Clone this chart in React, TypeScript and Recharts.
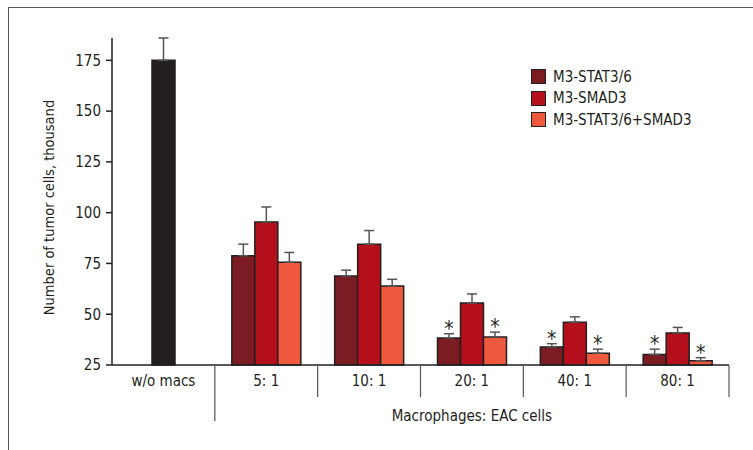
import { Bar, BarChart, Cell, ErrorBar, LabelList, Legend, XAxis, YAxis } from "recharts";

const CATEGORIES = ["w/o macs", "5: 1", "10: 1", "20: 1", "40: 1", "80: 1"];
const NO_MACS = [175, null, null, null, null, null];
const NO_MACS_ERR = [11, 0, 0, 0, 0, 0];
const STAT = [null, 78.8, 68.8, 38.3, 33.9, 30.2];
const STAT_ERR = [0, 5.7, 2.9, 2.1, 1.6, 2.6];
const SMAD = [null, 95.4, 84.5, 55.5, 46.1, 40.8];
const SMAD_ERR = [0, 7.4, 6.7, 4.5, 2.6, 2.7];
const COMBO = [null, 75.6, 63.9, 38.8, 30.8, 27.1];
const COMBO_ERR = [0, 4.8, 3.3, 2.4, 2.0, 1.5];
const STAT_SIG = [false, false, false, true, true, true];
const COMBO_SIG = [false, false, false, true, true, true];
const Y_TICKS = [25, 50, 75, 100, 125, 150, 175];
const Y_MIN = 25;

const LEGEND_NAMES = ["M3-STAT3/6", "M3-SMAD3", "M3-STAT3/6+SMAD3"];
const COLORS = ["#7b1c22", "#b50f1b", "#ef5a3f"];
const NO_MACS_COLOR = "#231f20";
const INK = "#231f20";
const FONT = '"Liberation Sans Narrow", "DejaVu Sans Condensed", sans-serif';

const W = 753;
const H = 450;
const MARGIN = { top: 38, right: 24, left: 0, bottom: 0 };
const Y_AXIS_W = 112;

const data = CATEGORIES.map((name, i) => ({
  name,
  stat: STAT[i],
  statErr: [0, STAT_ERR[i]],
  statStar: { v: STAT[i], err: STAT_ERR[i], sig: STAT_SIG[i] },
  mid: NO_MACS[i] ?? SMAD[i],
  midErr: [0, NO_MACS[i] != null ? NO_MACS_ERR[i] : SMAD_ERR[i]],
  combo: COMBO[i],
  comboErr: [0, COMBO_ERR[i]],
  comboStar: { v: COMBO[i], err: COMBO_ERR[i], sig: COMBO_SIG[i] },
}));

// asterisk sits above the error bar cap; pixel size taken from the bar's own scale
function StarLabel(props: any) {
  const { x, y, width, height, value } = props;
  if (!value || value.v == null || !value.sig) return null;
  const pxPerUnit = Math.abs(height) / (value.v - Y_MIN);
  const errTop = y - value.err * pxPerUnit;
  return (
    <text
      x={x + width / 2}
      y={errTop + 2}
      textAnchor="middle"
      fontSize={21}
      fontFamily={FONT}
      fill={INK}
    >
      *
    </text>
  );
}

function CategoryTick(props: any) {
  const { x, y, payload, index } = props;
  const plotW = W - Y_AXIS_W - MARGIN.right;
  const band = plotW / CATEGORIES.length;
  const right = x + band / 2;
  return (
    <g>
      <text x={x} y={y + 21} textAnchor="middle" fontSize={15} fontFamily={FONT} fill={INK}>
        {payload.value}
      </text>
      <line x1={right} y1={y} x2={right} y2={y + (index === 0 ? 56 : 32)} stroke="#555" strokeWidth={1.2} />
    </g>
  );
}

function LegendBox() {
  return (
    <div style={{ fontFamily: FONT, fontSize: 15, color: INK }}>
      {LEGEND_NAMES.map((n, i) => (
        <div key={n} style={{ display: "flex", alignItems: "center", height: 21.5 }}>
          <span
            style={{
              width: 13,
              height: 13,
              background: COLORS[i],
              border: `1.5px solid ${INK}`,
              marginRight: 7,
              display: "inline-block",
            }}
          />
          {n}
        </div>
      ))}
    </div>
  );
}

export default function App() {
  return (
    <div style={{ position: "absolute", left: 0, top: 0, width: W, height: H, background: "#fff" }}>
      <div
        style={{
          position: "absolute",
          left: 8,
          top: 7,
          width: W - 8,
          height: H - 7,
          borderLeft: "1px solid #555",
          borderTop: "1px solid #555",
        }}
      />
      <BarChart
        width={W}
        height={H}
        data={data}
        margin={MARGIN}
        barSize={23}
        barGap={0}
        style={{ position: "absolute", left: 0, top: 0 }}
      >
        <YAxis
          width={Y_AXIS_W}
          domain={[Y_MIN, 185]}
          ticks={Y_TICKS}
          interval={0}
          tickSize={6}
          tickMargin={5}
          axisLine={{ stroke: INK, strokeWidth: 1.5 }}
          tickLine={{ stroke: INK, strokeWidth: 1.5 }}
          tick={{ fontSize: 15, fill: INK, fontFamily: FONT }}
          label={{
            content: (p: any) => {
              const vb = p.viewBox;
              const cx = vb.x + 49;
              const cy = vb.y + vb.height / 2 + 6;
              return (
                <text
                  x={cx}
                  y={cy}
                  transform={`rotate(-90, ${cx}, ${cy})`}
                  textAnchor="middle"
                  dominantBaseline="central"
                  fontSize={14.5}
                  fontFamily={FONT}
                  fill={INK}
                >
                  Number of tumor cells, thousand
                </text>
              );
            },
          }}
        />
        <XAxis
          dataKey="name"
          height={85}
          interval={0}
          tickLine={false}
          tickSize={0}
          tickMargin={0}
          axisLine={{ stroke: INK, strokeWidth: 1.5 }}
          tick={<CategoryTick />}
          label={{
            content: (p: any) => {
              const vb = p.viewBox;
              return (
                <text
                  x={vb.x + (vb.width * 7) / 12}
                  y={vb.y + 56}
                  textAnchor="middle"
                  fontSize={15}
                  fontFamily={FONT}
                  fill={INK}
                >
                  Macrophages: EAC cells
                </text>
              );
            },
          }}
        />
        <Legend
          layout="vertical"
          align="center"
          verticalAlign="middle"
          content={<LegendBox />}
          wrapperStyle={{ position: "absolute", left: 531, top: 66, width: 200 }}
        />
        <Bar dataKey="stat" fill={COLORS[0]} stroke={INK} strokeWidth={1.5} isAnimationActive={false}>
          <ErrorBar dataKey="statErr" width={5} stroke="#555" strokeWidth={1.5} direction="y" />
          <LabelList dataKey="statStar" content={<StarLabel />} />
        </Bar>
        <Bar dataKey="mid" fill={COLORS[1]} stroke={INK} strokeWidth={1.5} isAnimationActive={false}>
          {data.map((_, i) => (
            <Cell key={i} fill={NO_MACS[i] != null ? NO_MACS_COLOR : COLORS[1]} />
          ))}
          <ErrorBar dataKey="midErr" width={5} stroke="#555" strokeWidth={1.5} direction="y" />
        </Bar>
        <Bar dataKey="combo" fill={COLORS[2]} stroke={INK} strokeWidth={1.5} isAnimationActive={false}>
          <ErrorBar dataKey="comboErr" width={5} stroke="#555" strokeWidth={1.5} direction="y" />
          <LabelList dataKey="comboStar" content={<StarLabel />} />
        </Bar>
      </BarChart>
    </div>
  );
}
